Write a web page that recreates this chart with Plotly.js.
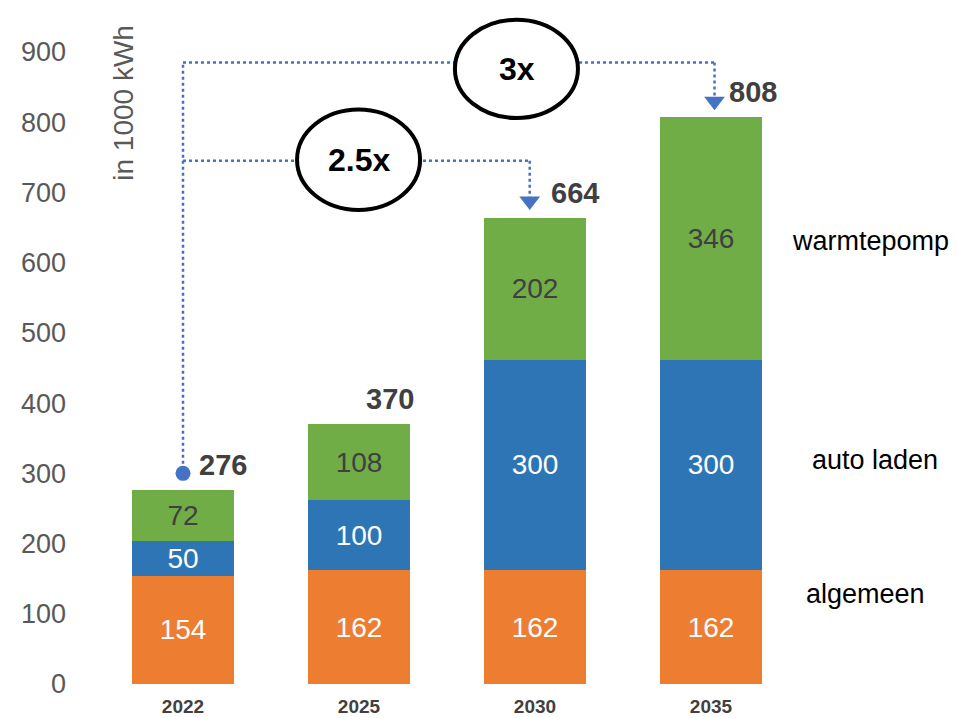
<!DOCTYPE html>
<html>
<head>
<meta charset="utf-8">
<script src="https://cdn.plot.ly/plotly-3.0.1.min.js"></script>
<style>html,body{margin:0;padding:0;background:#fff;}#chart{width:958px;height:718px;}</style>
</head>
<body>
<div id="chart"></div>
<script>
// ---- data ----
const years = ['2022', '2025', '2030', '2035'];
const algemeen = [154, 162, 162, 162];
const autoLaden = [50, 100, 300, 300];
const warmtepomp = [72, 108, 202, 346];
const seriesNames = ['algemeen', 'auto laden', 'warmtepomp'];
const multipliers = ['2.5x', '3x'];
const yTicks = [0, 100, 200, 300, 400, 500, 600, 700, 800, 900];

const totals = years.map((_, i) => algemeen[i] + autoLaden[i] + warmtepomp[i]);
const xPos = years.map((_, i) => i);

const FONT = 'Liberation Sans, Arial, sans-serif';
const C_OR = '#ED7D31', C_BL = '#2E75B6', C_GR = '#70AD47', C_LINE = '#4472C4';

function barTrace(vals, name, color, txtColor) {
  return {
    type: 'bar', x: xPos, y: vals, name: name,
    marker: {color: color, line: {width: 0}},
    width: 0.58,
    text: vals.map(String), textposition: 'inside', insidetextanchor: 'middle',
    textangle: 0, constraintext: 'none',
    textfont: {family: FONT, size: 28, color: txtColor},
    hoverinfo: 'none', cliponaxis: false
  };
}

const traces = [
  barTrace(algemeen, seriesNames[0], C_OR, '#ffffff'),
  barTrace(autoLaden, seriesNames[1], C_BL, '#ffffff'),
  barTrace(warmtepomp, seriesNames[2], C_GR, '#404040'),
  // start dot of the connectors (at 2022 bar, just above its total)
  {type: 'scatter', mode: 'markers', x: [xPos[0]], y: [300],
   marker: {symbol: 'circle', size: 15, color: C_LINE}, hoverinfo: 'none', showlegend: false, cliponaxis: false},
  // arrow heads
  {type: 'scatter', mode: 'markers', x: [1.97, 3.02], y: [688, 830],
   marker: {symbol: 'triangle-down', size: 18, color: C_LINE, line: {width: 0}}, hoverinfo: 'none', showlegend: false, cliponaxis: false}
];

const lvl25 = 745, lvl3 = 885;
const dotLine = {color: C_LINE, width: 2.5, dash: 'dot'};
const shapes = [
  {type: 'line', xref: 'x', yref: 'y', x0: 0, x1: 0, y0: 305, y1: lvl3, line: dotLine, layer: 'below'},
  {type: 'line', xref: 'x', yref: 'y', x0: 0, x1: 3.02, y0: lvl3, y1: lvl3, line: dotLine, layer: 'below'},
  {type: 'line', xref: 'x', yref: 'y', x0: 3.02, x1: 3.02, y0: lvl3, y1: 835, line: dotLine, layer: 'below'},
  {type: 'line', xref: 'x', yref: 'y', x0: 0, x1: 1.97, y0: lvl25, y1: lvl25, line: dotLine, layer: 'below'},
  {type: 'line', xref: 'x', yref: 'y', x0: 1.97, x1: 1.97, y0: lvl25, y1: 693, line: dotLine, layer: 'below'},
  {type: 'circle', xref: 'x', yref: 'y', x0: 0.648, x1: 1.347, y0: 675, y1: 818,
   line: {color: '#000', width: 4}, fillcolor: '#ffffff', layer: 'above'},
  {type: 'circle', xref: 'x', yref: 'y', x0: 1.545, x1: 2.244, y0: 806, y1: 946,
   line: {color: '#000', width: 4}, fillcolor: '#ffffff', layer: 'above'}
];

const totalShift = [40, 31, 40, 42];
const annotations = [];
years.forEach((y, i) => {
  annotations.push({x: xPos[i], y: totals[i], xref: 'x', yref: 'y', text: '<b>' + totals[i] + '</b>',
    showarrow: false, xshift: totalShift[i], yshift: 25, xanchor: 'center', yanchor: 'middle',
    font: {family: FONT, size: 29, color: '#404040'}});
});
annotations.push({x: 1.0, y: 746, xref: 'x', yref: 'y', text: '<b>' + multipliers[0] + '</b>', showarrow: false,
  font: {family: FONT, size: 32, color: '#000'}});
annotations.push({x: 1.895, y: 876, xref: 'x', yref: 'y', text: '<b>' + multipliers[1] + '</b>', showarrow: false,
  font: {family: FONT, size: 32, color: '#000'}});
// series labels at right (paper coordinates, outside the plot area)
annotations.push({x: 1.101, y: 631, xref: 'paper', yref: 'y', xanchor: 'center', text: seriesNames[2], showarrow: false,
  font: {family: FONT, size: 27, color: '#000'}});
annotations.push({x: 1.108, y: 319, xref: 'paper', yref: 'y', xanchor: 'center', text: seriesNames[1], showarrow: false,
  font: {family: FONT, size: 27, color: '#000'}});
annotations.push({x: 1.094, y: 128, xref: 'paper', yref: 'y', xanchor: 'center', text: seriesNames[0], showarrow: false,
  font: {family: FONT, size: 27, color: '#000'}});
// axis title (rotated, near the top)
annotations.push({x: -0.34, y: 828, xref: 'x', yref: 'y', text: 'in 1000 kWh', textangle: -90, showarrow: false,
  font: {family: FONT, size: 28, color: '#595959'}});

const layout = {
  width: 958, height: 718,
  margin: {l: 95, r: 159, t: 4, b: 34},
  paper_bgcolor: '#fff', plot_bgcolor: '#fff',
  barmode: 'stack', showlegend: false,
  uniformtext: {mode: 'show', minsize: 28},
  xaxis: {range: [-0.5, 3.5], tickvals: xPos, ticktext: years, showgrid: false, zeroline: false, showline: false,
    ticks: '', ticklabelstandoff: 9,
    tickfont: {family: FONT, size: 19, color: '#404040', weight: 'bold'}},
  yaxis: {range: [0, 968.4], tickvals: yTicks, ticktext: yTicks.map(String), showgrid: false, zeroline: false,
    showline: false, ticks: '', ticklabelstandoff: 28,
    tickfont: {family: FONT, size: 27, color: '#595959'}},
  shapes: shapes, annotations: annotations
};

Plotly.newPlot('chart', traces, layout, {staticPlot: true, displayModeBar: false});
</script>
</body>
</html>
